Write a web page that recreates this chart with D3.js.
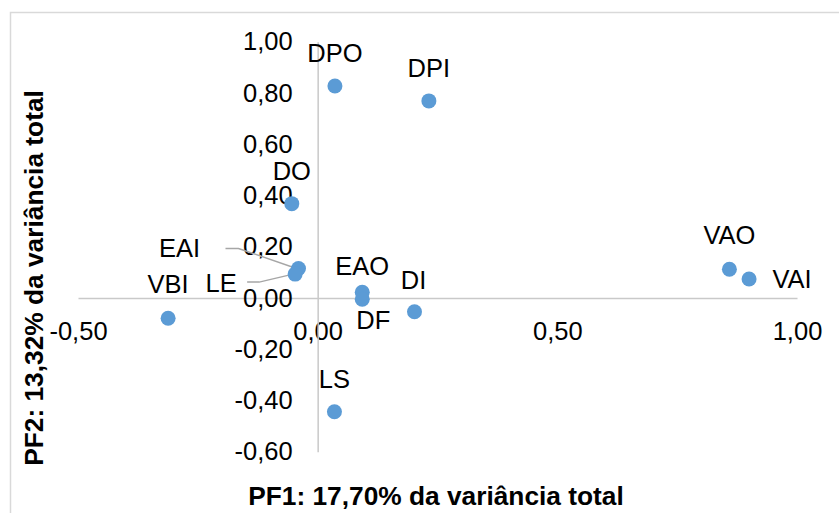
<!DOCTYPE html>
<meta charset="utf-8">
<style>
body { margin: 0; background: #fff; }
svg { font-family: "Liberation Sans", Arial, sans-serif; }
.axis .domain { stroke: #c9c9c9; stroke-width: 1.5; }
.axis text { font-size: 25.5px; fill: #000; }
</style>
<svg width="839" height="513" class="scatter"></svg>
<script src="https://d3js.org/d3.v7.min.js"></script>
<script>

var names = ["DPO", "DPI", "DO", "EAI", "LE", "EAO", "DF", "DI", "VBI", "LS", "VAO", "VAI"];
var pf1 = [0.036, 0.232, -0.054, -0.040, -0.047, 0.093, 0.093, 0.202, -0.312, 0.035, 0.859, 0.900];
var pf2 = [0.827, 0.769, 0.368, 0.115, 0.093, 0.022, -0.005, -0.054, -0.079, -0.444, 0.112, 0.074];

var xTicks = [-0.5, 0, 0.5, 1.0];
var yTicks = [-0.6, -0.4, -0.2, 0, 0.2, 0.4, 0.6, 0.8, 1.0];

var xTitle = "PF1: 17,70% da variância total";
var yTitle = "PF2: 13,32% da variância total";

// label placement relative to the point (excel-style data labels)
var labelPos = {
  DPO: {dx: 0, dy: -24}, DPI: {dx: 0, dy: -24}, DO: {dx: 0, dy: -24},
  LS: {dx: 0, dy: -24}, VBI: {dx: 0, dy: -25}, VAO: {dx: 0, dy: -25},
  DI: {dx: -1, dy: -23}, EAO: {dx: 0, dy: -17}, DF: {dx: 11, dy: 30},
  VAI: {dx: 43, dy: 9},
  EAI: {dx: -119, dy: -11, leader: [-73, -20, 13]},
  LE: {dx: -74, dy: 18, leader: [-48, 8, 12]}
};

var svg = d3.select(".scatter");

var locale = d3.formatLocale({decimal: ",", thousands: ".", grouping: [3], currency: ["", ""], minus: "-"});
var fmt = locale.format(".2f");

var x = d3.scaleLinear().domain([-0.5, 1.0]).range([78, 797]);
var y = d3.scaleLinear().domain([-0.6, 1.0]).range([451.7, 41.7]);

svg.append("rect")
    .attr("x", 10.5).attr("y", 12.5)
    .attr("width", 900).attr("height", 600)
    .attr("fill", "#fff")
    .attr("stroke", "#d9d9d9")
    .attr("stroke-width", 1.5);

svg.append("g")
    .attr("class", "axis")
    .attr("transform", "translate(0," + y(0) + ")")
    .call(d3.axisBottom(x).tickValues(xTicks).tickFormat(fmt).tickSize(0).tickSizeOuter(0).tickPadding(24))
    .call(function(g) { g.selectAll("text").attr("font-family", null).attr("font-size", null); });

svg.append("g")
    .attr("class", "axis")
    .attr("transform", "translate(" + x(0) + ",0)")
    .call(d3.axisLeft(y).tickValues(yTicks).tickFormat(fmt).tickSize(0).tickSizeOuter(0).tickPadding(25))
    .call(function(g) { g.selectAll("text").attr("font-family", null).attr("font-size", null); });

svg.selectAll(".axis").attr("font-family", null).attr("font-size", null);

var pts = names.map(function(n, i) { return {name: n, px: x(pf1[i]), py: y(pf2[i])}; });

svg.append("g")
  .selectAll("path")
  .data(pts.filter(function(d) { return labelPos[d.name].leader; }))
  .enter().append("path")
    .attr("fill", "none")
    .attr("stroke", "#a6a6a6")
    .attr("stroke-width", 1.5)
    .attr("d", function(d) {
      var l = labelPos[d.name].leader;
      var sx = d.px + l[0], sy = d.py + l[1];
      return "M" + sx + "," + sy + "H" + (sx + l[2]) + "L" + (d.px - 2) + "," + d.py;
    });

svg.append("g")
  .selectAll("circle")
  .data(pts)
  .enter().append("circle")
    .attr("cx", function(d) { return d.px; })
    .attr("cy", function(d) { return d.py; })
    .attr("r", 7.5)
    .attr("fill", "#5b9bd5");

svg.append("g")
    .attr("font-size", 25.5)
    .attr("text-anchor", "middle")
  .selectAll("text")
  .data(pts)
  .enter().append("text")
    .attr("x", function(d) { return d.px + labelPos[d.name].dx; })
    .attr("y", function(d) { return d.py + labelPos[d.name].dy; })
    .text(function(d) { return d.name; });

svg.append("text")
    .attr("x", 436)
    .attr("y", 505)
    .attr("text-anchor", "middle")
    .attr("font-size", 26.3)
    .attr("font-weight", "bold")
    .text(xTitle);

svg.append("text")
    .attr("transform", "translate(43,278) rotate(-90)")
    .attr("text-anchor", "middle")
    .attr("font-size", 26.3)
    .attr("font-weight", "bold")
    .text(yTitle);

</script>
